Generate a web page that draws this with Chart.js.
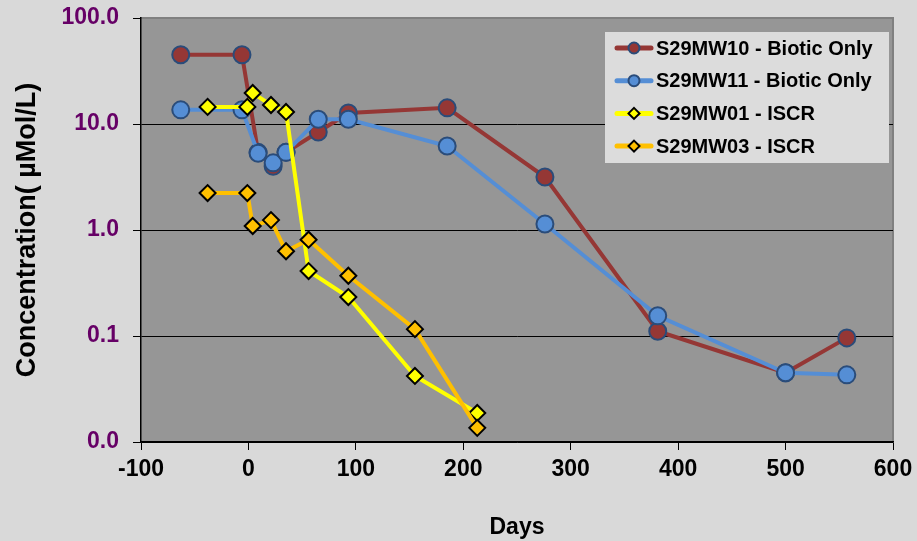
<!DOCTYPE html>
<html>
<head>
<meta charset="utf-8">
<title>Concentration vs Days</title>
<script src="https://cdn.jsdelivr.net/npm/chart.js@4.4.1/dist/chart.umd.min.js"></script>
<style>
    html, body { margin: 0; padding: 0; background: #d9d9d9; }
    #wrap { width: 917px; height: 541px; position: relative; }
</style>
</head>
<body>
<div id="wrap"><canvas id="concChart" width="917" height="541"></canvas></div>
<script>
// Sampling days and concentrations (µMol/L) for each well
const mw10Days = [-63, -6, 9, 23, 35, 65, 93, 185, 276, 381, 500, 557];
const mw10Conc = [45, 45, 5.4, 4.0, 5.4, 8.4, 12.7, 14.2, 3.16, 0.111, 0.045, 0.096];

const mw11Days = [-63, -6, 9, 23, 35, 65, 93, 185, 276, 381, 500, 557];
const mw11Conc = [13.6, 13.6, 5.3, 4.3, 5.4, 11.1, 11.1, 6.2, 1.14, 0.155, 0.045, 0.043];

const mw01Days = [-38, -1, 4, 21, 35, 56, 93, 155, 213];
const mw01Conc = [14.5, 14.5, 19.6, 15.1, 13.0, 0.41, 0.233, 0.042, 0.0188];

const mw03Days = [-38, -1, 4, 21, 35, 56, 93, 155, 213];
const mw03Conc = [2.23, 2.23, 1.09, 1.24, 0.63, 0.81, 0.37, 0.116, 0.0136];

const seriesNames = ['S29MW10 - Biotic Only', 'S29MW11 - Biotic Only', 'S29MW01 - ISCR', 'S29MW03 - ISCR'];
const yTicks = [0.01, 0.1, 1, 10, 100];

const FONT = "'Liberation Sans', Arial, sans-serif";

function toPoints(days, conc) {
    return days.map((d, i) => ({ x: d, y: conc[i] }));
}

// gray plot area with a thin frame on top and right
const plotBackground = {
    id: 'plotBackground',
    beforeDraw(chart) {
        const { ctx, chartArea: a } = chart;
        ctx.save();
        ctx.fillStyle = '#969696';
        ctx.fillRect(a.left, a.top, a.right - a.left, a.bottom - a.top);
        ctx.strokeStyle = '#808080';
        ctx.lineWidth = 2;
        ctx.beginPath();
        ctx.moveTo(a.left, a.top);
        ctx.lineTo(a.right, a.top);
        ctx.lineTo(a.right, a.bottom);
        ctx.stroke();
        ctx.restore();
    }
};

// legend box drawn inside the plot, top right
const boxLegend = {
    id: 'boxLegend',
    afterDraw(chart) {
        const { ctx } = chart;
        const x0 = 605, y0 = 32, w = 284, h = 131, rowH = 32.7;
        ctx.save();
        ctx.fillStyle = '#dcdcdc';
        ctx.fillRect(x0, y0, w, h);
        chart.data.datasets.forEach((ds, i) => {
            const cy = y0 + 16 + i * rowH;
            ctx.strokeStyle = ds.borderColor;
            ctx.lineWidth = 5;
            ctx.lineCap = 'round';
            ctx.beginPath();
            ctx.moveTo(x0 + 12, cy);
            ctx.lineTo(x0 + 46, cy);
            ctx.stroke();
            ctx.fillStyle = ds.pointBackgroundColor;
            ctx.strokeStyle = ds.pointBorderColor;
            ctx.lineWidth = 2;
            ctx.beginPath();
            if (ds.pointStyle === 'rectRot') {
                const r = 5.5;
                ctx.moveTo(x0 + 29, cy - r);
                ctx.lineTo(x0 + 29 + r, cy);
                ctx.lineTo(x0 + 29, cy + r);
                ctx.lineTo(x0 + 29 - r, cy);
                ctx.closePath();
            } else {
                ctx.arc(x0 + 29, cy, 5.5, 0, Math.PI * 2);
            }
            ctx.fill();
            ctx.stroke();
            ctx.fillStyle = '#000';
            ctx.font = 'bold 20px ' + FONT;
            ctx.textBaseline = 'middle';
            ctx.fillText(ds.label, x0 + 51, cy + 1);
        });
        ctx.restore();
    }
};

const ctx = document.getElementById('concChart').getContext('2d');
new Chart(ctx, {
    type: 'line',
    data: {
        datasets: [
            {
                label: seriesNames[0],
                data: toPoints(mw10Days, mw10Conc),
                borderColor: '#953735',
                borderWidth: 4,
                pointStyle: 'circle',
                pointRadius: 8.5,
                pointBackgroundColor: '#953735',
                pointBorderColor: '#2a4c7a',
                pointBorderWidth: 2,
                order: 4
            },
            {
                label: seriesNames[1],
                data: toPoints(mw11Days, mw11Conc),
                borderColor: '#558ed5',
                borderWidth: 4,
                pointStyle: 'circle',
                pointRadius: 8.5,
                pointBackgroundColor: '#558ed5',
                pointBorderColor: '#2a4c7a',
                pointBorderWidth: 2,
                order: 3
            },
            {
                label: seriesNames[2],
                data: toPoints(mw01Days, mw01Conc),
                borderColor: '#ffff00',
                borderWidth: 4,
                pointStyle: 'rectRot',
                pointRadius: 8,
                pointBackgroundColor: '#ffff00',
                pointBorderColor: '#000000',
                pointBorderWidth: 2,
                order: 2
            },
            {
                label: seriesNames[3],
                data: toPoints(mw03Days, mw03Conc),
                borderColor: '#ffc000',
                borderWidth: 4,
                pointStyle: 'rectRot',
                pointRadius: 8,
                pointBackgroundColor: '#ffc000',
                pointBorderColor: '#000000',
                pointBorderWidth: 2,
                order: 1
            }
        ]
    },
    options: {
        responsive: false,
        animation: false,
        layout: { padding: { top: 18, right: 24, left: 0, bottom: 0 } },
        plugins: {
            legend: { display: false },
            tooltip: { enabled: false }
        },
        scales: {
            x: {
                type: 'linear',
                min: -100,
                max: 600,
                ticks: {
                    stepSize: 100,
                    color: '#000',
                    padding: 6,
                    font: { family: FONT, size: 23, weight: 'bold' }
                },
                grid: {
                    drawOnChartArea: false,
                    drawTicks: true,
                    tickLength: 8,
                    tickColor: '#000'
                },
                border: { display: true, color: '#000', width: 1.5 },
                title: {
                    display: true,
                    text: 'Days',
                    color: '#000',
                    padding: { top: 0, bottom: 0 },
                    font: { family: FONT, size: 23, weight: 'bold' }
                },
                afterFit(scale) {
                    scale.height = 99;
                    scale.paddingLeft = 0;
                    scale.paddingRight = 0;
                }
            },
            y: {
                type: 'logarithmic',
                min: 0.01,
                max: 100,
                afterBuildTicks(scale) {
                    scale.ticks = yTicks.map(v => ({ value: v }));
                },
                ticks: {
                    color: '#660066',
                    padding: 14,
                    font: { family: FONT, size: 23, weight: 'bold' },
                    callback: (v) => Number(v).toFixed(1)
                },
                grid: {
                    // the top edge is the plot frame, not a grid line
                    color: (c) => (c.tick && c.tick.value === 100 ? 'rgba(0,0,0,0)' : '#000'),
                    lineWidth: 1,
                    drawTicks: true,
                    tickLength: 8,
                    tickColor: '#000'
                },
                border: { display: true, color: '#000', width: 1.5 },
                title: {
                    display: true,
                    text: 'Concentration( µMol/L)',
                    color: '#000',
                    padding: { top: 11, bottom: 0 },
                    font: { family: FONT, size: 27, weight: 'bold' }
                },
                afterFit(scale) {
                    scale.width = 141;
                    scale.paddingTop = 0;
                    scale.paddingBottom = 0;
                }
            }
        }
    },
    plugins: [plotBackground, boxLegend]
});
</script>
</body>
</html>
